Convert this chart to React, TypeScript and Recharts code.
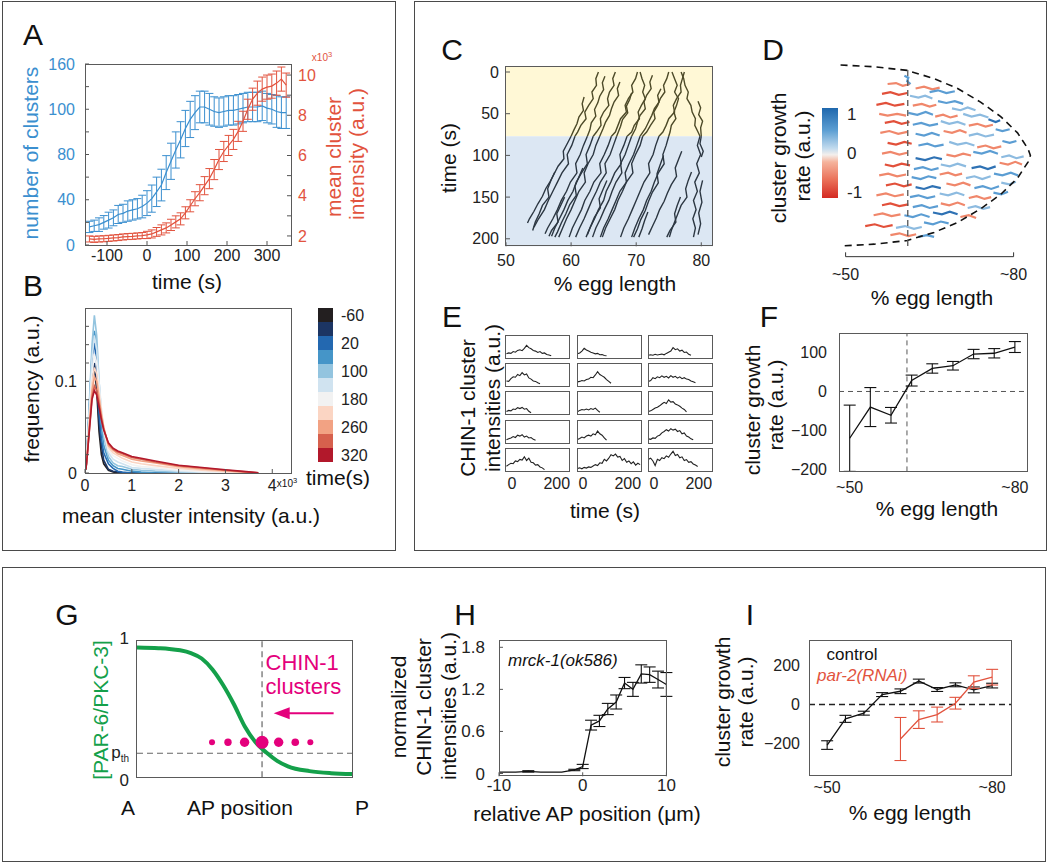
import React from 'react';
import {
  ComposedChart, LineChart, BarChart, Line, Bar, Scatter, XAxis, YAxis,
  ErrorBar, ReferenceLine, ReferenceArea,
} from 'recharts';

const FONT = '"Liberation Sans", Arial, Helvetica, sans-serif';
const BLUE = '#3b8fcf';
const RED = '#e2533e';
const MAGENTA = '#e4007c';
const GREEN = '#14a04a';
const TICK = { fontSize: 16, fill: '#222' };

// ---------- A: cluster number / intensity over time ----------
const aTimes = [-144, -132, -120, -108, -96, -84, -72, -60, -48, -36, -24, -12, 0, 12, 24, 36, 48, 60, 72, 84, 96, 108, 120, 132, 144, 156, 168, 180, 192, 204, 216, 228, 240, 252, 264, 276, 288, 300, 312, 324, 336, 348];
const aClusters = [16, 17, 18, 20, 22, 24, 27, 28, 30, 31, 32, 34, 37, 41, 47, 53, 64, 74, 84, 93, 103, 111, 117, 122, 122, 120, 118, 117, 118, 119, 119, 120, 121, 122, 122, 122, 123, 121, 120, 118, 117, 117];
const aClustersErr = [5, 5, 6, 6, 7, 7, 8, 8, 9, 9, 9, 10, 11, 12, 13, 14, 15, 16, 16, 16, 16, 16, 15, 14, 14, 14, 13, 13, 13, 13, 13, 13, 13, 13, 13, 13, 13, 13, 13, 14, 14, 14];
const aIntensity = [1.85, 1.83, 1.85, 1.86, 1.88, 1.9, 1.92, 1.95, 1.97, 1.98, 2.0, 2.02, 2.05, 2.1, 2.2, 2.3, 2.4, 2.55, 2.7, 2.85, 3.15, 3.5, 3.85, 4.15, 4.5, 4.85, 5.3, 5.8, 6.2, 6.5, 6.8, 7.2, 7.7, 8.3, 8.8, 9.1, 9.3, 9.4, 9.45, 9.6, 9.8, 9.5];
const aIntensityErr = [0.15, 0.15, 0.15, 0.15, 0.15, 0.15, 0.15, 0.15, 0.15, 0.15, 0.15, 0.15, 0.18, 0.2, 0.22, 0.25, 0.25, 0.28, 0.3, 0.3, 0.3, 0.3, 0.35, 0.4, 0.45, 0.5, 0.5, 0.5, 0.5, 0.5, 0.5, 0.5, 0.5, 0.5, 0.55, 0.6, 0.6, 0.6, 0.6, 0.6, 0.6, 0.6];
const aTimeTicks = [-100, 0, 100, 200, 300];
const aLeftTicks = [0, 20, 40, 60, 80, 100, 120, 140, 160];
const aLeftLabelAt = [0, 40, 80, 120, 160];
const aLeftLabels = ['0', '40', '80', '100', '160'];
const aRightTicks = [2, 3, 4, 5, 6, 7, 8, 9, 10];

// ---------- B: intensity distributions ----------
const bIntensity = [0.02, 0.05, 0.1, 0.15, 0.2, 0.25, 0.3, 0.35, 0.4, 0.5, 0.6, 0.7, 0.8, 1.0, 1.2, 1.5, 2.0, 2.5, 3.0, 3.5, 3.7];
const bCurves = [
  [0.004, 0.025, 0.07, 0.105, 0.116, 0.09, 0.045, 0.02, 0.01, 0.003, 0.001, 0, 0, 0, 0, 0, 0, 0, 0, 0, 0],
  [0.004, 0.027, 0.075, 0.11, 0.12, 0.098, 0.055, 0.03, 0.014, 0.004, 0.002, 0.001, 0, 0, 0, 0, 0, 0, 0, 0, 0],
  [0.005, 0.03, 0.08, 0.125, 0.142, 0.12, 0.065, 0.038, 0.022, 0.01, 0.005, 0.002, 0.001, 0, 0, 0, 0, 0, 0, 0, 0],
  [0.005, 0.03, 0.08, 0.13, 0.155, 0.138, 0.085, 0.052, 0.03, 0.014, 0.008, 0.005, 0.004, 0.002, 0.001, 0, 0, 0, 0, 0, 0],
  [0.005, 0.032, 0.085, 0.14, 0.172, 0.15, 0.1, 0.065, 0.04, 0.018, 0.011, 0.008, 0.007, 0.004, 0.003, 0.002, 0.001, 0, 0, 0, 0],
  [0.005, 0.03, 0.075, 0.125, 0.15, 0.135, 0.1, 0.07, 0.045, 0.022, 0.015, 0.012, 0.01, 0.006, 0.005, 0.004, 0.002, 0.001, 0, 0, 0],
  [0.005, 0.028, 0.068, 0.108, 0.13, 0.12, 0.095, 0.07, 0.048, 0.025, 0.019, 0.016, 0.013, 0.009, 0.007, 0.006, 0.003, 0.0015, 0.0008, 0, 0],
  [0.005, 0.025, 0.062, 0.098, 0.115, 0.108, 0.088, 0.067, 0.05, 0.028, 0.022, 0.019, 0.016, 0.012, 0.01, 0.008, 0.005, 0.003, 0.0015, 0.0003, 0],
  [0.005, 0.022, 0.057, 0.09, 0.105, 0.1, 0.082, 0.064, 0.05, 0.03, 0.025, 0.021, 0.019, 0.015, 0.013, 0.011, 0.007, 0.0045, 0.0025, 0.0006, 0.0002],
  [0.004, 0.02, 0.052, 0.083, 0.095, 0.09, 0.076, 0.06, 0.048, 0.032, 0.026, 0.023, 0.021, 0.017, 0.015, 0.012, 0.008, 0.0055, 0.003, 0.001, 0.0002],
  [0.004, 0.02, 0.05, 0.08, 0.09, 0.085, 0.072, 0.058, 0.047, 0.033, 0.027, 0.024, 0.022, 0.018, 0.016, 0.013, 0.0085, 0.006, 0.0035, 0.0012, 0.0003],
];
const bColors = ['#231f20', '#1c3563', '#2368b0', '#4595c8', '#93c4df', '#d0e3f0', '#f2f2f2', '#fbd5c3', '#f2a283', '#d6604d', '#b2182b'];
const bBarLabels = ['-60', '20', '100', '180', '260', '320'];
const bYTicks = [0, 0.02, 0.04, 0.06, 0.08, 0.1, 0.12, 0.14, 0.16];

// ---------- C: kymograph tracks (x = % egg length, t = s) ----------
const cSplit = 77;
const cTracksTop = [
  [[64.2, 0], [63.8, 8], [63.9, 16], [63.2, 24], [63.4, 32], [62.7, 40], [62.1, 48], [62.3, 56], [61.5, 64], [61.0, 72], [60.6, 77]],
  [[66.8, 0], [66.4, 8], [66.6, 16], [65.9, 24], [65.6, 32], [65.8, 40], [65.0, 48], [64.5, 56], [64.6, 64], [63.9, 72], [63.4, 77]],
  [[70.2, 0], [69.9, 8], [69.3, 16], [69.5, 24], [68.8, 32], [68.3, 40], [68.5, 48], [67.6, 56], [67.2, 64], [66.8, 72], [66.2, 77]],
  [[70.6, 0], [70.9, 8], [71.3, 16], [71.0, 24], [71.4, 32], [70.8, 40], [70.3, 48], [70.5, 56], [69.7, 64], [69.3, 72], [68.6, 77]],
  [[75.0, 0], [74.7, 8], [74.2, 16], [74.4, 24], [73.7, 32], [73.3, 40], [72.7, 48], [72.9, 56], [72.2, 64], [71.6, 72], [71.0, 77]],
  [[75.5, 0], [75.9, 8], [76.3, 16], [75.9, 24], [76.5, 32], [76.2, 40], [75.8, 48], [76.1, 56], [75.4, 64], [75.2, 72], [75.0, 77]],
  [[76.9, 0], [77.3, 8], [77.5, 16], [78.0, 24], [77.8, 32], [78.4, 40], [78.6, 48], [79.1, 56], [79.0, 64], [79.5, 72], [79.8, 77]],
  [[77.4, 0], [77.1, 8], [76.8, 16], [76.9, 24], [76.2, 32], [75.7, 40], [75.9, 48], [75.0, 56], [74.6, 64], [74.1, 72], [73.5, 77]],
  [[62.0, 30], [61.7, 38], [61.9, 46], [61.2, 54], [60.9, 62], [60.4, 70], [60.0, 77]],
  [[65.2, 5], [64.8, 13], [65.0, 21], [64.4, 29], [64.1, 37], [63.6, 45], [63.8, 53], [63.1, 61], [62.9, 69], [62.5, 77]],
  [[69.3, 25], [69.0, 33], [68.5, 41], [68.7, 49], [67.9, 57], [67.6, 65], [67.0, 77]],
  [[72.5, 4], [72.1, 12], [72.3, 20], [71.6, 28], [71.2, 36], [71.4, 44], [70.6, 52], [70.2, 60], [69.9, 68], [69.3, 77]],
  [[79.5, 35], [79.9, 43], [79.6, 51], [80.2, 59], [79.9, 67], [80.0, 77]],
  [[73.8, 20], [73.3, 28], [73.5, 36], [72.8, 44], [72.4, 52], [71.9, 60], [71.4, 68], [70.6, 77]],
  [[67.5, 12], [67.1, 20], [67.3, 28], [66.6, 36], [66.2, 44], [65.9, 52], [65.3, 60], [64.9, 68], [64.4, 77]],
];
const cTracksBottom = [
  [[60.6, 77], [60.1, 88], [59.4, 99], [59.6, 110], [58.6, 121], [57.9, 132], [57.2, 143], [56.5, 154], [55.9, 165], [55.0, 176], [54.3, 186]],
  [[63.4, 77], [62.9, 88], [62.3, 99], [62.5, 110], [61.6, 121], [60.8, 132], [60.3, 143], [59.5, 154], [58.9, 165], [58.2, 176], [57.5, 187], [57.0, 197]],
  [[66.2, 77], [65.7, 88], [65.1, 99], [64.4, 110], [64.6, 121], [63.5, 132], [62.9, 143], [62.1, 154], [61.6, 165], [60.9, 176], [60.2, 187], [59.7, 198]],
  [[68.6, 77], [68.1, 88], [67.5, 99], [67.7, 110], [66.7, 121], [66.1, 132], [65.4, 143], [65.0, 154], [64.2, 165], [63.6, 176], [62.9, 187], [62.3, 198]],
  [[71.0, 77], [70.6, 88], [69.9, 99], [69.3, 110], [69.5, 121], [68.5, 132], [67.9, 143], [67.2, 154], [66.7, 165], [66.0, 176], [65.3, 187], [64.8, 198]],
  [[75.0, 77], [74.6, 88], [74.1, 99], [74.3, 110], [73.4, 121], [72.8, 132], [72.3, 143], [71.6, 154], [71.1, 165], [70.4, 176], [69.8, 187], [69.3, 198]],
  [[79.8, 77], [79.4, 88], [79.9, 99], [79.3, 110], [79.7, 121], [79.0, 132], [79.4, 143], [78.8, 154], [79.2, 165], [78.7, 176], [79.1, 187], [78.8, 198]],
  [[73.5, 77], [73.0, 88], [72.6, 99], [71.9, 110], [72.1, 121], [71.2, 132], [70.6, 143], [70.0, 154], [69.4, 165], [68.8, 176], [68.1, 187], [67.6, 198]],
  [[60.0, 77], [59.4, 86], [58.8, 95], [58.9, 104], [58.0, 113], [57.4, 122], [56.8, 131], [56.1, 140], [55.6, 149], [54.9, 158], [54.3, 167], [53.6, 176], [53.3, 181]],
  [[62.5, 77], [61.9, 88], [61.4, 99], [60.7, 110], [60.9, 121], [59.9, 132], [59.3, 143], [58.5, 154], [57.9, 165], [57.2, 176], [56.4, 187], [56.0, 194]],
  [[67.0, 77], [66.5, 88], [66.0, 99], [65.2, 110], [65.4, 121], [64.5, 132], [63.9, 143], [63.2, 154], [62.6, 165], [62.0, 176], [61.3, 187], [60.7, 198]],
  [[69.3, 77], [68.8, 88], [68.3, 99], [67.6, 110], [67.8, 121], [66.9, 132], [66.3, 143], [65.8, 154], [65.1, 165], [64.5, 176], [63.8, 187], [63.3, 198]],
  [[64.4, 77], [63.8, 88], [63.4, 99], [62.6, 110], [62.0, 121], [62.2, 132], [61.2, 143], [60.6, 154], [60.0, 165], [59.3, 176], [58.7, 187], [58.1, 198]],
  [[70.6, 77], [70.1, 88], [69.6, 99], [68.9, 110], [68.3, 121], [68.5, 132], [67.5, 143], [66.9, 154], [66.3, 165], [65.7, 176], [65.0, 187], [64.5, 198]],
  [[80.0, 77], [79.8, 86], [80.3, 95], [80.0, 102]],
  [[77.0, 95], [76.5, 105], [76.0, 115], [76.2, 125], [75.4, 135], [74.8, 145], [74.3, 155], [73.6, 165], [73.1, 175], [72.5, 185], [71.9, 195]],
  [[78.5, 120], [78.0, 130], [77.6, 140], [77.8, 150], [76.9, 160], [76.4, 170], [75.9, 180], [75.4, 190], [75.1, 198]],
  [[57.5, 120], [56.9, 130], [56.4, 140], [56.6, 150], [55.6, 160], [55.1, 170], [54.5, 180], [54.1, 190]],
  [[61.8, 115], [61.2, 126], [60.6, 137], [60.8, 148], [59.8, 159], [59.2, 170], [58.5, 181], [57.9, 192], [57.5, 198]],
  [[74.2, 100], [73.7, 111], [73.2, 122], [73.4, 133], [72.5, 144], [71.9, 155], [71.4, 166], [70.7, 177], [70.2, 188], [69.6, 198]],
  [[76.8, 150], [76.3, 160], [75.9, 170], [76.1, 180], [75.2, 190], [74.7, 198]],
  [[80.2, 130], [79.8, 143], [80.1, 156], [79.6, 169], [79.9, 182], [79.5, 195]],
  [[65.5, 130], [64.9, 141], [64.3, 152], [64.5, 163], [63.6, 174], [63.0, 185], [62.5, 195]],
  [[71.8, 168], [71.3, 178], [70.9, 188], [70.4, 198]],
  [[59.0, 150], [58.4, 160], [57.8, 170], [58.0, 180], [57.0, 190], [56.6, 197]],
];
const cXTicks = [50, 60, 70, 80];
const cTTicks = [0, 50, 100, 150, 200];

// ---------- D: growth-rate map inside the egg ----------
const dOutline = [[49.1, 1.0], [55.1, 0.98], [61.0, 0.94], [65.8, 0.85], [70.0, 0.74], [74.1, 0.59], [77.7, 0.43], [80.7, 0.25], [82.6, 0.07], [83.0, 0.0], [82.6, -0.07], [80.7, -0.25], [77.7, -0.43], [74.1, -0.59], [70.0, -0.74], [65.8, -0.85], [61.0, -0.94], [55.1, -0.98], [49.1, -1.0]];
const dStreaks = [
  [[57.5, 0.79], [59, 0.80], [60.2, 0.77], [61.5, 0.79]], [[60.5, 0.88], [61.2, 0.86], [61.0, 0.82], [61.6, 0.79]],
  [[62.5, 0.74], [64, 0.76], [65.5, 0.73], [66.8, 0.75]], [[65, 0.70], [66.5, 0.72], [68, 0.69], [69.5, 0.71]],
  [[56.5, 0.68], [58, 0.70], [59.5, 0.67], [61, 0.69]], [[61.5, 0.66], [63, 0.64], [64.2, 0.66], [65.5, 0.63]],
  [[55.5, 0.56], [57.2, 0.58], [58.8, 0.55], [60.5, 0.57]], [[62, 0.55], [63.6, 0.57], [65, 0.54], [66.2, 0.56]],
  [[66.5, 0.60], [68, 0.58], [69.5, 0.60], [71, 0.57]], [[69, 0.52], [70.5, 0.50], [71.8, 0.53], [73.2, 0.50]],
  [[56, 0.46], [57.5, 0.44], [59.2, 0.46], [60.8, 0.44]], [[61.2, 0.47], [62.8, 0.45], [64.3, 0.48], [65.6, 0.45]],
  [[66, 0.43], [67.4, 0.45], [68.7, 0.42], [70, 0.44]], [[71, 0.46], [72.5, 0.43], [74, 0.45], [75.5, 0.42]],
  [[57, 0.36], [58.6, 0.38], [60, 0.35], [61.4, 0.37]], [[62, 0.34], [63.5, 0.36], [65, 0.33], [66.5, 0.35]],
  [[67, 0.38], [68.5, 0.35], [70, 0.37], [71.4, 0.34]], [[72, 0.33], [73.5, 0.35], [75, 0.32], [76.3, 0.34]],
  [[75.5, 0.40], [76.8, 0.37], [77.6, 0.39]], [[56.2, 0.25], [57.8, 0.27], [59.4, 0.24], [61, 0.26]],
  [[62.5, 0.24], [64, 0.22], [65.4, 0.25], [66.8, 0.22]], [[67.5, 0.27], [69, 0.25], [70.4, 0.28], [71.6, 0.25]],
  [[72, 0.22], [73.5, 0.24], [75, 0.21], [76.5, 0.23]], [[76.8, 0.29], [78, 0.27], [79.3, 0.29]],
  [[57.5, 0.14], [59, 0.12], [60.5, 0.15], [61.8, 0.13]], [[63, 0.11], [64.6, 0.13], [66, 0.10], [67.5, 0.12]],
  [[68.5, 0.15], [70, 0.12], [71.5, 0.14], [73, 0.11]], [[73.5, 0.09], [75, 0.11], [76.4, 0.08], [77.8, 0.10]],
  [[78, 0.16], [79.3, 0.14], [80.5, 0.16]], [[56.5, 0.02], [58, 0.04], [59.6, 0.01], [61, 0.03]],
  [[62.5, -0.03], [64.2, -0.05], [65.8, -0.02], [67.2, -0.04]], [[68, 0.01], [69.5, -0.01], [71, 0.02], [72.4, 0.0]],
  [[72.8, 0.04], [74.3, 0.02], [75.8, 0.05], [77.2, 0.02]], [[77.8, -0.02], [79.2, 0.0], [80.5, -0.03], [81.8, -0.01]],
  [[57, -0.10], [58.5, -0.12], [60, -0.09], [61.5, -0.11]], [[62.2, -0.15], [63.8, -0.13], [65.3, -0.16], [66.6, -0.14]],
  [[67, -0.10], [68.6, -0.12], [70, -0.09], [71.5, -0.12]], [[72.5, -0.14], [74, -0.12], [75.4, -0.15], [76.8, -0.12]],
  [[77.5, -0.08], [79, -0.10], [80.3, -0.07], [81.5, -0.10]], [[56, -0.22], [57.6, -0.20], [59.2, -0.23], [60.8, -0.21]],
  [[61.8, -0.24], [63.4, -0.26], [64.8, -0.23], [66.2, -0.25]], [[66.8, -0.21], [68.3, -0.19], [69.6, -0.22], [70.8, -0.20]],
  [[71.5, -0.25], [73, -0.23], [74.4, -0.26], [75.9, -0.23]], [[76.5, -0.20], [78, -0.22], [79.5, -0.19], [80.8, -0.22]],
  [[57.2, -0.33], [58.8, -0.31], [60.4, -0.34], [61.8, -0.32]], [[62.5, -0.35], [64, -0.37], [65.5, -0.34], [67, -0.36]],
  [[68, -0.31], [69.5, -0.33], [71, -0.30], [72.3, -0.33]], [[73, -0.36], [74.5, -0.34], [76, -0.37], [77.4, -0.34]],
  [[77.8, -0.30], [79.2, -0.32], [80.4, -0.29]], [[55.5, -0.44], [57.2, -0.42], [58.8, -0.45], [60.4, -0.43]],
  [[61.5, -0.46], [63, -0.44], [64.6, -0.47], [66, -0.45]], [[66.8, -0.42], [68.3, -0.44], [69.8, -0.41], [71.2, -0.44]],
  [[72, -0.47], [73.4, -0.45], [74.8, -0.48], [76, -0.46]], [[76.4, -0.41], [77.8, -0.43], [79, -0.40]],
  [[56.5, -0.55], [58, -0.53], [59.6, -0.56], [61.2, -0.54]], [[62, -0.57], [63.6, -0.55], [65, -0.58], [66.5, -0.56]],
  [[67, -0.53], [68.5, -0.55], [70, -0.52], [71.3, -0.55]], [[71.8, -0.58], [73.2, -0.56], [74.6, -0.59], [75.8, -0.57]],
  [[55, -0.66], [56.6, -0.64], [58.2, -0.67], [59.8, -0.65]], [[60.5, -0.66], [62, -0.68], [63.5, -0.65], [65, -0.68]],
  [[65.6, -0.63], [67.2, -0.65], [68.6, -0.62], [70, -0.65]], [[70.5, -0.68], [72, -0.66], [73.3, -0.69]],
  [[53.5, -0.78], [55.2, -0.76], [56.8, -0.79], [58.4, -0.77]], [[59, -0.80], [60.6, -0.78], [62.2, -0.81], [63.6, -0.79]],
  [[64, -0.74], [65.6, -0.76], [67, -0.73], [68.4, -0.75]], [[58, -0.88], [59.6, -0.86], [61.2, -0.89], [62.6, -0.87]],
  [[63, -0.90], [64.5, -0.88], [65.8, -0.90]],
];
const dTones = 'rbrbRlRrblrbrlRblrBrbrlbRblrbrBrblRblBrrbrlbRBrblrblrbRbrlrbBrRlbrb'.split('');
const dToneColor: Record<string, string> = { R: '#e2503a', r: '#f0876b', B: '#2f72b4', b: '#5b9dd3', l: '#8dbbe0' };
const dBracket = [50, 80];
const dBarTicks = [-1, 0, 1];

// ---------- E: single cluster intensity traces ----------
const eTimes = [-25, -15, -5, 5, 15, 25, 35, 45, 55, 65, 75, 85, 95, 105, 115, 125, 135, 145, 155, 165, 175, 185, 195, 205, 215, 225, 235, 245, 255];
const eTraces = [
  [0.18, 0.22, 0.20, 0.28, 0.25, 0.33, 0.36, 0.32, 0.42, 0.55, 0.45, 0.40, 0.33, 0.30, 0.24, 0.28, 0.20, 0.22, 0.15, 0.13, 0.10],
  [0.18, 0.22, 0.30, 0.42, 0.35, 0.30, 0.25, 0.22, 0.18, 0.20, 0.14, 0.15, 0.11, 0.10],
  [0.12, 0.14, 0.12, 0.16, 0.13, 0.15, 0.17, 0.14, 0.20, 0.25, 0.30, 0.45, 0.36, 0.40, 0.30, 0.34, 0.24, 0.26, 0.16, 0.12],
  [0.22, 0.20, 0.32, 0.40, 0.38, 0.50, 0.45, 0.58, 0.48, 0.52, 0.35, 0.30, 0.22, 0.20, 0.14, 0.10],
  [0.18, 0.20, 0.24, 0.22, 0.28, 0.30, 0.38, 0.36, 0.48, 0.62, 0.50, 0.44, 0.38, 0.28, 0.20, 0.12],
  [0.20, 0.24, 0.36, 0.32, 0.40, 0.36, 0.44, 0.38, 0.42, 0.35, 0.45, 0.38, 0.42, 0.34, 0.40, 0.32, 0.36, 0.30, 0.28, 0.22, 0.18, 0.14],
  [0.15, 0.20, 0.18, 0.26, 0.24, 0.32, 0.28, 0.33, 0.25, 0.28, 0.16, 0.10],
  [0.14, 0.20, 0.24, 0.22, 0.26, 0.22, 0.28, 0.24, 0.30, 0.20, 0.12],
  [0.15, 0.18, 0.24, 0.30, 0.34, 0.40, 0.48, 0.55, 0.50, 0.66, 0.56, 0.58, 0.48, 0.44, 0.38, 0.30, 0.24, 0.14],
  [0.14, 0.18, 0.22, 0.28, 0.24, 0.34, 0.30, 0.36, 0.26, 0.30, 0.22, 0.24, 0.16, 0.12],
  [0.15, 0.20, 0.26, 0.22, 0.30, 0.34, 0.30, 0.40, 0.36, 0.52, 0.40, 0.34, 0.22, 0.12],
  [0.18, 0.16, 0.22, 0.20, 0.30, 0.34, 0.44, 0.50, 0.58, 0.52, 0.62, 0.56, 0.60, 0.50, 0.54, 0.40, 0.44, 0.30, 0.26, 0.18, 0.14],
  [0.25, 0.32, 0.38, 0.36, 0.48, 0.45, 0.55, 0.52, 0.66, 0.50, 0.60, 0.42, 0.40, 0.30, 0.32, 0.22, 0.18, 0.10],
  [0.15, 0.18, 0.14, 0.20, 0.17, 0.22, 0.20, 0.26, 0.32, 0.28, 0.40, 0.38, 0.55, 0.48, 0.60, 0.75, 0.70, 0.78, 0.65, 0.68, 0.50, 0.58, 0.42, 0.48, 0.36, 0.44, 0.30, 0.38, 0.32],
  [0.55, 0.60, 0.48, 0.28, 0.55, 0.50, 0.62, 0.58, 0.70, 0.64, 0.78, 0.90, 0.72, 0.76, 0.62, 0.66, 0.50, 0.54, 0.42, 0.45, 0.35, 0.30, 0.24],
];
const eTimeTicks = [0, 200];

// ---------- F: growth rate along the egg ----------
const fPos = [50, 53.75, 57.5, 61.25, 65, 68.75, 72.5, 76.25, 80];
const fRate = [-120, -40, -61, 28, 59, 66, 96, 98, 114];
const fRateErr = [85, 50, 20, 14, 12, 11, 12, 12, 14];
const fPosTicks = [50, 80];
const fRateTicks = [-200, -100, 0, 100];

// ---------- G: model sketch ----------
const gPos = [0, 0.1, 0.15, 0.2, 0.25, 0.3, 0.35, 0.4, 0.45, 0.5, 0.55, 0.6, 0.65, 0.7, 0.8, 0.9, 1.0];
const gLevel = [0.945, 0.94, 0.935, 0.925, 0.905, 0.865, 0.785, 0.67, 0.53, 0.37, 0.255, 0.18, 0.12, 0.08, 0.045, 0.03, 0.024];
const gDotPos = [0.348, 0.422, 0.499, 0.58, 0.657, 0.734, 0.804];
const gDotSize = [3, 3.7, 4.7, 6.5, 4.7, 3.8, 3];
const gDotLevel = 0.255;
const gPth = 0.175;
const gBoundary = 0.58;
const gArrowFrom = 0.912;
const gArrowTo = 0.634;
const gArrowLevel = 0.466;

// ---------- H: mrck-1 intensities ----------
const hPos = [-10, -8, -6.5, -5, -4, -2.5, -1, 0, 1, 2, 3, 4, 5, 6, 7, 8, 9, 10];
const hVal = [0.02, 0.02, 0.03, 0.02, 0.02, 0.02, 0.05, 0.1, 0.69, 0.75, 0.92, 1.02, 1.29, 1.2, 1.42, 1.41, 1.34, 1.27];
const hErr = [0, 0, 0.01, 0, 0, 0, 0.01, 0.03, 0.07, 0.08, 0.08, 0.1, 0.08, 0.1, 0.13, 0.11, 0.12, 0.17];
const hPosTicks = [-10, 0, 10];
const hValTicks = [0, 0.6, 1.2, 1.8];

// ---------- I: control vs par-2(RNAi) ----------
const iPos = [50, 53.33, 56.67, 60, 63.33, 66.67, 70, 73.33, 76.67, 80];
const iControl = [-207, -73, -44, 51, 68, 120, 77, 101, 75, 97];
const iControlErr = [22, 18, 10, 10, 12, 10, 10, 10, 15, 12];
const iPar2Pos = [63.33, 66.67, 70, 73.33, 76.67, 80];
const iPar2 = [-176, -77, -51, 7, 115, 140];
const iPar2Err = [110, 45, 38, 30, 32, 40];
const iRateTicks = [-200, 0, 200];

// ---------- derived tables ----------
const aRows = aTimes.map((t, i) => ({ t, n: aClusters[i], ne: aClustersErr[i], m: aIntensity[i], me: aIntensityErr[i] }));
const bRows = bIntensity.map((x, i) => {
  const row: any = { x };
  bCurves.forEach((c, k) => { row[`s${k}`] = c[i]; });
  return row;
});
const bBarRow: any = { k: 'c' };
bColors.forEach((_, i) => { bBarRow[`b${i}`] = 1; });
const toXT = (tr: number[][]) => tr.map(([x, t]) => ({ x, t }));
const toXY = (tr: number[][]) => tr.map(([x, y]) => ({ x, y }));
const fRows = fPos.map((x, i) => ({ x, v: fRate[i], e: fRateErr[i] }));
const gRows = gPos.map((x, i) => ({ x, y: gLevel[i] }));
const gDots = gDotPos.map((x, i) => ({ x, y: gDotLevel, r: gDotSize[i] }));
const hRows = hPos.map((x, i) => ({ x, v: hVal[i], e: hErr[i] }));
const iRows = iPos.map((x, i) => ({ x, v: iControl[i], e: iControlErr[i] }));
const iPar2Rows = iPar2Pos.map((x, i) => ({ x, v: iPar2[i], e: iPar2Err[i] }));
const minus = (v: number) => (v < 0 ? `\u2212${Math.abs(v)}` : String(v));

// ---------- small layout helpers ----------
const Txt = ({ x, y, size = 21, color = '#111', rot = false, left = false, italic = false, children }: any) => (
  <div style={{
    position: 'absolute', left: x, top: y, fontSize: size, color, lineHeight: 1, whiteSpace: 'nowrap',
    fontStyle: italic ? 'italic' : 'normal',
    transform: `translate(${left ? '0' : '-50%'}, -50%)${rot ? ' rotate(-90deg)' : ''}`,
  }}>{children}</div>
);
const Frame = ({ x, y, w, h, color = '#4a4a4a', bw = 1.5 }: any) => (
  <div style={{ position: 'absolute', left: x, top: y, width: w, height: h, border: `${bw}px solid ${color}`, boxSizing: 'border-box', pointerEvents: 'none' }} />
);
const PlotBox = ({ x, y, w, h }: any) => <Frame x={x - 0.5} y={y - 0.5} w={w + 1} h={h + 1} color="#5a5a5a" bw={1} />;
const At = ({ x, y, children }: any) => <div style={{ position: 'absolute', left: x, top: y }}>{children}</div>;
const Sup3 = () => <span>x10<sup style={{ fontSize: '0.75em' }}>3</sup></span>;

const eColLeft = [505.7, 577.3, 648.3];
const eRowTop = [335, 363.3, 391.7, 420, 448.7];
const MT = 14;

const GTick = ({ x, y, payload }: any) => (
  payload.value === gPth ? (
    <text x={x} y={y} dy={5} textAnchor="end" fontSize={17} fill="#222">p<tspan fontSize={10} dy={4}>th</tspan></text>
  ) : (
    <text x={x} y={y} dy={payload.value === 0 ? 9 : 4} textAnchor="end" fontSize={17} fill="#222">{payload.value}</text>
  )
);

export default function App() {
  return (
    <div style={{ position: 'absolute', left: 0, top: 0, width: 1050, height: 866, background: '#fff', fontFamily: FONT, overflow: 'hidden' }}>
      <svg width={0} height={0} style={{ position: 'absolute' }}>
        <defs>
          <linearGradient id="dGrad" x1="0" y1="0" x2="0" y2="1">
            <stop offset="0%" stopColor="#1f67ad" />
            <stop offset="25%" stopColor="#5d9fd3" />
            <stop offset="45%" stopColor="#c3dbee" />
            <stop offset="52%" stopColor="#f4efec" />
            <stop offset="60%" stopColor="#f5b39c" />
            <stop offset="80%" stopColor="#ea7058" />
            <stop offset="100%" stopColor="#d42a22" />
          </linearGradient>
        </defs>
      </svg>

      <Frame x={2} y={1} w={394} h={550} />
      <Frame x={413.5} y={1} w={633.5} h={550} />
      <Frame x={2} y={566.5} w={1044} h={295.5} />

      {/* ---- A ---- */}
      <Txt x={33} y={35} size={30}>A</Txt>
      <At x={85 - 45} y={64 - MT}>
        <ComposedChart width={206 + 45 + 32} height={181 + MT + 30} data={aRows} margin={{ top: MT, right: 0, bottom: 0, left: 0 }}>
          <XAxis dataKey="t" type="number" domain={[-155, 360]} ticks={aTimeTicks} interval={0} height={30} axisLine={false} tickSize={-4} tickMargin={9} tick={TICK} stroke="#555" allowDataOverflow />
          <YAxis yAxisId="n" domain={[0, 160]} ticks={aLeftTicks} interval={0} width={45} axisLine={false} tickSize={-4} tickMargin={14} stroke="#555"
            tick={{ fontSize: 16, fill: BLUE }} tickFormatter={(v: number) => (aLeftLabelAt.includes(v) ? aLeftLabels[aLeftLabelAt.indexOf(v)] : '')} />
          <YAxis yAxisId="m" orientation="right" domain={[1.55, 10.55]} ticks={aRightTicks} interval={0} width={32} axisLine={false} tickSize={-4} tickMargin={11} stroke="#555"
            tick={{ fontSize: 16, fill: RED }} tickFormatter={(v: number) => (v % 2 === 0 ? String(v) : '')} />
          <Line yAxisId="n" dataKey="n" stroke={BLUE} strokeWidth={1.2} dot={false} activeDot={false} isAnimationActive={false}>
            <ErrorBar dataKey="ne" width={4} stroke={BLUE} strokeWidth={1} />
          </Line>
          <Line yAxisId="m" dataKey="m" stroke={RED} strokeWidth={1.2} dot={false} activeDot={false} isAnimationActive={false}>
            <ErrorBar dataKey="me" width={4} stroke={RED} strokeWidth={1} />
          </Line>
        </ComposedChart>
      </At>
      <PlotBox x={85} y={64} w={206} h={181} />
      <Txt x={30} y={153} color={BLUE} rot>number of clusters</Txt>
      <Txt x={333} y={157} color={RED} rot>mean cluster</Txt>
      <Txt x={356} y={154} color={RED} rot>intensity (a.u.)</Txt>
      <Txt x={322} y={57} size={10} color={RED}><Sup3 /></Txt>
      <Txt x={187} y={281}>time (s)</Txt>

      {/* ---- B ---- */}
      <Txt x={33} y={286} size={30}>B</Txt>
      <At x={85 - 45} y={308 - MT}>
        <LineChart width={206 + 45 + 10} height={165 + MT + 30} data={bRows} margin={{ top: MT, right: 10, bottom: 0, left: 0 }}>
          <XAxis dataKey="x" type="number" domain={[0, 4.4]} ticks={[0, 1, 2, 3, 4]} interval={0} height={30} axisLine={false} tickSize={-4} tickMargin={11} tick={TICK} stroke="#555" />
          <YAxis domain={[0, 0.18]} ticks={bYTicks} interval={0} width={45} axisLine={false} tickSize={-4} tickMargin={12} stroke="#555"
            tick={TICK} tickFormatter={(v: number) => (v === 0 ? '0' : v === 0.1 ? '0.1' : '')} />
          {bColors.map((c, k) => (
            <Line key={k} dataKey={`s${k}`} stroke={c} strokeWidth={1.6} dot={false} activeDot={false} isAnimationActive={false} />
          ))}
        </LineChart>
      </At>
      <PlotBox x={85} y={308} w={206} h={165} />
      <At x={318} y={308 - 10}>
        <BarChart width={15 + 40} height={154 + 20} data={[bBarRow]} margin={{ top: 10, right: 0, bottom: 10, left: 0 }} barCategoryGap={0}>
          <XAxis dataKey="k" hide />
          <YAxis orientation="right" domain={[0, 11]} reversed ticks={[0.5, 2.5, 4.5, 6.5, 8.5, 10.5]} interval={0} width={40}
            axisLine={false} tickLine={false} tickSize={0} tickMargin={8} tick={TICK} tickFormatter={(v: number) => bBarLabels[(v - 0.5) / 2]} />
          {bColors.map((c, i) => (
            <Bar key={i} dataKey={`b${i}`} stackId="cb" fill={c} isAnimationActive={false} />
          ))}
        </BarChart>
      </At>
      <Txt x={31} y={389} rot>frequency (a.u.)</Txt>
      <Txt x={287} y={483} size={10}><Sup3 /></Txt>
      <Txt x={338} y={477}>time(s)</Txt>
      <Txt x={191} y={515}>mean cluster intensity (a.u.)</Txt>

      {/* ---- C ---- */}
      <Txt x={452} y={50} size={30}>C</Txt>
      <At x={505.8 - 45} y={66.7 - MT}>
        <LineChart width={207 + 45 + 10} height={179.3 + MT + 30} margin={{ top: MT, right: 10, bottom: 0, left: 0 }}>
          <XAxis dataKey="x" type="number" domain={[50, 81.8]} ticks={cXTicks} interval={0} height={30} axisLine={false} tickSize={-4} tickMargin={12} tick={TICK} stroke="#555" allowDataOverflow />
          <YAxis dataKey="t" type="number" domain={[-6, 209]} reversed ticks={cTTicks} interval={0} width={45} axisLine={false} tickSize={-4} tickMargin={11} tick={TICK} stroke="#555" allowDataOverflow />
          <ReferenceArea y1={-6} y2={cSplit} fill="#fff8d6" fillOpacity={1} stroke="none" />
          <ReferenceArea y1={cSplit} y2={209} fill="#dce7f3" fillOpacity={1} stroke="none" />
          {cTracksTop.map((tr, i) => (
            <Line key={`ct${i}`} data={toXT(tr)} dataKey="t" stroke="#4d4a28" strokeWidth={1.4} dot={false} activeDot={false} isAnimationActive={false} />
          ))}
          {cTracksBottom.map((tr, i) => (
            <Line key={`cb${i}`} data={toXT(tr)} dataKey="t" stroke="#2c3742" strokeWidth={1.4} dot={false} activeDot={false} isAnimationActive={false} />
          ))}
        </LineChart>
      </At>
      <PlotBox x={505.8} y={66.7} w={207} h={179.3} />
      <Txt x={448} y={158} rot>time (s)</Txt>
      <Txt x={615} y={283}>% egg length</Txt>

      {/* ---- D ---- */}
      <Txt x={773} y={50} size={30}>D</Txt>
      <At x={840 - 24} y={60}>
        <LineChart width={196 + 24 + 6} height={202 + 40} margin={{ top: 0, right: 6, bottom: 0, left: 24 }}>
          <XAxis dataKey="x" type="number" domain={[49, 84]} ticks={dBracket} interval={0} height={40} axisLine={false} tickLine={false} tickSize={0} tickMargin={7}
            tick={TICK} tickFormatter={(v: number) => `~${v}`} />
          <YAxis dataKey="y" type="number" domain={[-1.177, 1.055]} hide />
          {dStreaks.map((s, i) => (
            <Line key={i} data={toXY(s)} dataKey="y" stroke={dToneColor[dTones[i]]} strokeWidth={2.2} dot={false} activeDot={false} isAnimationActive={false} />
          ))}
          <Line data={toXY(dOutline)} dataKey="y" stroke="#111" strokeWidth={1.6} strokeDasharray="7 5" dot={false} activeDot={false} isAnimationActive={false} />
          <ReferenceLine segment={[{ x: 61.1, y: 0.945 }, { x: 61.1, y: -1.0 }]} stroke="#555" strokeWidth={1.3} strokeDasharray="6 4" />
          <ReferenceLine segment={[{ x: dBracket[0], y: -1.118 }, { x: dBracket[1], y: -1.118 }]} stroke="#333" strokeWidth={1} />
          <ReferenceLine segment={[{ x: dBracket[0], y: -1.118 }, { x: dBracket[0], y: -1.07 }]} stroke="#333" strokeWidth={1} />
          <ReferenceLine segment={[{ x: dBracket[1], y: -1.118 }, { x: dBracket[1], y: -1.07 }]} stroke="#333" strokeWidth={1} />
        </LineChart>
      </At>
      <At x={821.7} y={108 - 10}>
        <BarChart width={16 + 30} height={90 + 20} data={[{ k: 'g', v: [-1.15, 1.15] }]} margin={{ top: 10, right: 0, bottom: 10, left: 0 }} barCategoryGap={0}>
          <XAxis dataKey="k" hide />
          <YAxis orientation="right" type="number" domain={[-1.15, 1.15]} ticks={dBarTicks} interval={0} width={30}
            axisLine={false} tickLine={false} tickSize={0} tickMargin={9} tick={{ fontSize: 17, fill: '#222' }} />
          <Bar dataKey="v" fill="url(#dGrad)" isAnimationActive={false} />
        </BarChart>
      </At>
      <Txt x={778} y={158} rot>cluster growth</Txt>
      <Txt x={802} y={156} rot>rate (a.u.)</Txt>
      <Txt x={932} y={297}>% egg length</Txt>

      {/* ---- E ---- */}
      <Txt x={452} y={317} size={30}>E</Txt>
      {eTraces.map((tr, i) => {
        const r = Math.floor(i / 3);
        const c = i % 3;
        const last = r === 4;
        const rows = tr.map((v, k) => ({ t: eTimes[k], v }));
        return (
          <React.Fragment key={i}>
            <At x={eColLeft[c]} y={eRowTop[r]}>
              <LineChart width={64} height={last ? 23 + 28 : 23} data={rows} margin={{ top: 0, right: 0, bottom: 0, left: 0 }}>
                <XAxis dataKey="t" type="number" domain={[-27, 259]} hide={!last} ticks={eTimeTicks} interval={0} height={28}
                  axisLine={false} tickLine={false} tickSize={0} tickMargin={6} tick={TICK} />
                <YAxis domain={[0, 1]} hide />
                <Line dataKey="v" stroke="#222" strokeWidth={1.1} dot={false} activeDot={false} isAnimationActive={false} />
              </LineChart>
            </At>
            <PlotBox x={eColLeft[c]} y={eRowTop[r]} w={64} h={23} />
          </React.Fragment>
        );
      })}
      <Txt x={467} y={408} rot>CHIN-1 cluster</Txt>
      <Txt x={492} y={398} rot>intensities (a.u.)</Txt>
      <Txt x={605} y={510}>time (s)</Txt>

      {/* ---- F ---- */}
      <Txt x={769} y={317} size={30}>F</Txt>
      <At x={839.3 - 50} y={333.3 - MT}>
        <ComposedChart width={188 + 50 + 10} height={138.4 + MT + 30} data={fRows} margin={{ top: MT, right: 10, bottom: 0, left: 0 }}>
          <XAxis dataKey="x" type="number" domain={[48.06, 82.2]} ticks={fPosTicks} interval={0} height={30} axisLine={false} tickLine={false} tickSize={0} tickMargin={10}
            tick={TICK} tickFormatter={(v: number) => `~${v}`} />
          <YAxis domain={[-200, 150]} ticks={fRateTicks} interval={0} width={50} axisLine={false} tickLine={false} tickSize={0} tickMargin={12}
            tick={TICK} tickFormatter={minus} />
          <ReferenceLine y={0} stroke="#555" strokeWidth={1} strokeDasharray="5 4" />
          <ReferenceLine x={60.4} stroke="#555" strokeWidth={1} strokeDasharray="5 4" />
          <Line dataKey="v" stroke="#111" strokeWidth={1.3} dot={false} activeDot={false} isAnimationActive={false}>
            <ErrorBar dataKey="e" width={6} stroke="#111" strokeWidth={1.1} />
          </Line>
        </ComposedChart>
      </At>
      <PlotBox x={839.3} y={333.3} w={188} h={138.4} />
      <Txt x={752} y={410} rot>cluster growth</Txt>
      <Txt x={775} y={405} rot>rate (a.u.)</Txt>
      <Txt x={937} y={508}>% egg length</Txt>

      {/* ---- G ---- */}
      <Txt x={67} y={615} size={30}>G</Txt>
      <At x={136.7 - 30} y={640 - MT}>
        <ComposedChart width={215.6 + 30 + 5} height={137.3 + MT + 14} margin={{ top: MT, right: 5, bottom: 14, left: 0 }}>
          <XAxis dataKey="x" type="number" domain={[0, 1]} hide />
          <YAxis dataKey="y" type="number" domain={[0, 1]} ticks={[0, gPth, 1]} interval={0} width={30} axisLine={false} tickLine={false} tickSize={0} tickMargin={8} tick={<GTick />} />
          <ReferenceLine y={gPth} stroke="#666" strokeWidth={1.2} strokeDasharray="6 4" />
          <ReferenceLine x={gBoundary} stroke="#666" strokeWidth={1.2} strokeDasharray="6 4" />
          <Line data={gRows} dataKey="y" type="monotone" stroke={GREEN} strokeWidth={4} dot={false} activeDot={false} isAnimationActive={false} />
          <Scatter data={gDots} fill={MAGENTA} isAnimationActive={false}
            shape={(p: any) => <circle cx={p.cx} cy={p.cy} r={p.payload.r} fill={MAGENTA} />} />
          <Line data={[{ x: gArrowFrom, y: gArrowLevel }, { x: gArrowTo + 0.04, y: gArrowLevel }]} dataKey="y" stroke={MAGENTA} strokeWidth={2} dot={false} activeDot={false} isAnimationActive={false} />
          <Scatter data={[{ x: gArrowTo, y: gArrowLevel }]} fill={MAGENTA} isAnimationActive={false}
            shape={(p: any) => <path d={`M${p.cx},${p.cy} L${p.cx + 16},${p.cy - 6} L${p.cx + 16},${p.cy + 6} Z`} fill={MAGENTA} />} />
        </ComposedChart>
      </At>
      <PlotBox x={136.7} y={640} w={215.6} h={137.3} />
      <Txt x={100} y={710} color={GREEN} rot>[PAR-6/PKC-3]</Txt>
      <Txt x={265.5} y={663} size={22} color={MAGENTA} left>CHIN-1</Txt>
      <Txt x={265.5} y={687} size={22} color={MAGENTA} left>clusters</Txt>
      <Txt x={128} y={807}>A</Txt>
      <Txt x={240} y={807}>AP position</Txt>
      <Txt x={362} y={807}>P</Txt>

      {/* ---- H ---- */}
      <Txt x={465} y={615} size={30}>H</Txt>
      <At x={499.3 - 45} y={640.7 - MT}>
        <ComposedChart width={167.4 + 45 + 10} height={135.3 + MT + 30} data={hRows} margin={{ top: MT, right: 10, bottom: 0, left: 0 }}>
          <XAxis dataKey="x" type="number" domain={[-10, 10]} ticks={hPosTicks} interval={0} height={30} axisLine={false} tickSize={-4} tickMargin={7} stroke="#555"
            tick={{ fontSize: 17, fill: '#222' }} />
          <YAxis domain={[-0.04, 1.89]} ticks={hValTicks} interval={0} width={45} axisLine={false} tickSize={-4} tickMargin={18} stroke="#555"
            tick={{ fontSize: 17, fill: '#222' }} tickFormatter={(v: number) => (v === 0 ? '0' : v.toFixed(1))} />
          <Line dataKey="v" stroke="#111" strokeWidth={1.3} dot={false} activeDot={false} isAnimationActive={false}>
            <ErrorBar dataKey="e" width={6} stroke="#111" strokeWidth={1.1} />
          </Line>
        </ComposedChart>
      </At>
      <PlotBox x={499.3} y={640.7} w={167.4} h={135.3} />
      <Txt x={508} y={660} size={17} italic left>mrck-1(ok586)</Txt>
      <Txt x={398} y={707} rot>normalized</Txt>
      <Txt x={423} y={707} rot>CHIN-1 cluster</Txt>
      <Txt x={448} y={706} rot>intensities (a.u.)</Txt>
      <Txt x={587} y={813}>relative AP position (μm)</Txt>

      {/* ---- I ---- */}
      <Txt x={750} y={615} size={30}>I</Txt>
      <At x={809.3 - 50} y={640 - MT}>
        <ComposedChart width={202.4 + 50 + 10} height={135 + MT + 30} data={iRows} margin={{ top: MT, right: 10, bottom: 0, left: 0 }}>
          <XAxis dataKey="x" type="number" domain={[46.7, 83.5]} ticks={[50, 80]} interval={0} height={30} axisLine={false} tickLine={false} tickSize={0} tickMargin={7}
            tick={TICK} tickFormatter={(v: number) => `~${v}`} />
          <YAxis domain={[-360, 330]} ticks={iRateTicks} interval={0} width={50} axisLine={false} tickLine={false} tickSize={0} tickMargin={9}
            tick={TICK} tickFormatter={minus} />
          <ReferenceLine y={0} stroke="#222" strokeWidth={1.5} strokeDasharray="6 4" />
          <Line dataKey="v" stroke="#111" strokeWidth={1.3} dot={false} activeDot={false} isAnimationActive={false}>
            <ErrorBar dataKey="e" width={6} stroke="#111" strokeWidth={1.1} />
          </Line>
          <Line data={iPar2Rows} dataKey="v" stroke={RED} strokeWidth={1.3} dot={false} activeDot={false} isAnimationActive={false}>
            <ErrorBar dataKey="e" width={6} stroke={RED} strokeWidth={1.1} />
          </Line>
        </ComposedChart>
      </At>
      <PlotBox x={809.3} y={640} w={202.4} h={135} />
      <Txt x={826.5} y={654} size={17} left>control</Txt>
      <Txt x={817} y={675} size={17} color={RED} italic left>par-2(RNAi)</Txt>
      <Txt x={722} y={702} rot>cluster growth</Txt>
      <Txt x={745} y={702} rot>rate (a.u.)</Txt>
      <Txt x={910} y={812}>% egg length</Txt>
    </div>
  );
}
